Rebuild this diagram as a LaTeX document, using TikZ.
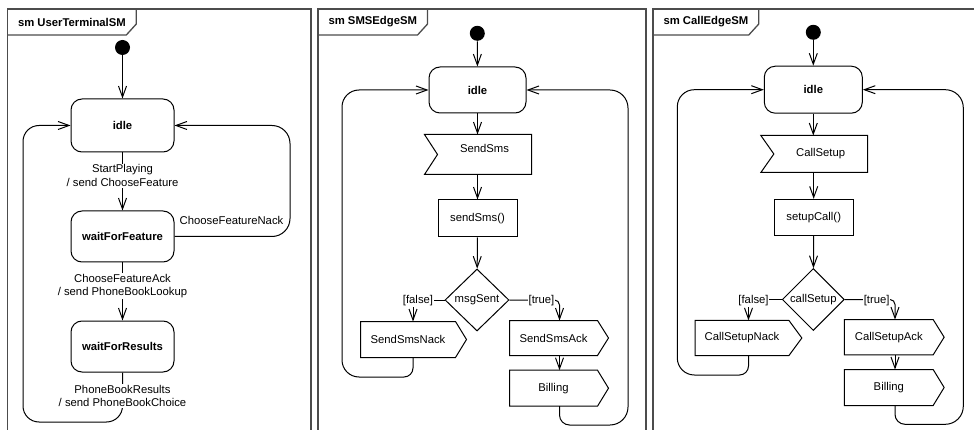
\documentclass[tikz,border=0pt]{standalone}
\usepackage{fontspec}
\setmainfont{Liberation Sans}
\usetikzlibrary{arrows.meta,shapes.geometric,calc}

% outline of a send-signal action (pointed right end)
\newcommand{\sendoutline}[2][11]{%
  \draw (#2.north west) -- (#2.north east) -- ([xshift=#1]#2.east)
        -- (#2.south east) -- (#2.south west) -- cycle;}
% outline of an accept-event action (notch on the left)
\newcommand{\recvoutline}[2][13]{%
  \draw ([xshift=-#1]#2.north west) -- (#2.north east) -- (#2.south east)
        -- ([xshift=-#1]#2.south west) -- (#2.west) -- cycle;}

\begin{document}
\begin{tikzpicture}[x=1pt,y=-1pt,line width=1pt,
  >={Straight Barb[length=11pt,width=8pt]},
  font=\fontsize{11.3}{13.5}\selectfont,
  frame/.style={draw=black!70,line width=1.3pt},
  tabtxt/.style={anchor=north west,font=\fontsize{11.3}{13.5}\selectfont\bfseries,
    minimum height=25,inner ysep=0,inner xsep=10},
  init/.style={circle,fill=black,minimum size=15,inner sep=0},
  state/.style={draw,rounded corners=11,inner sep=0,
    font=\fontsize{11.3}{13.5}\selectfont\bfseries},
  actbox/.style={draw,inner sep=0},
  sig/.style={inner sep=0},
  decision/.style={diamond,draw,inner sep=0,aspect=1},
  lbl/.style={fill=white,inner sep=1,align=center},
  guard/.style={fill=white,inner sep=0.5}]

\useasboundingbox (0,0) rectangle (974,430);
\clip (0,0) rectangle (974,430);

% ---------------- sm UserTerminalSM ----------------
\draw[frame] (7.5,440) -- (7.5,9) -- (311,9) -- (311,440);
\node[tabtxt] (t1) at (7.5,9) {sm UserTerminalSM};
\draw[frame] (t1.north east) -- ($(t1.south east)+(0,-11)$)
  -- ($(t1.south east)+(-10,0)$) -- (t1.south west);

\node[init] (i1) at (122.5,47.5) {};
\node[state,minimum width=103,minimum height=53] (idle1) at (122.5,125.5) {idle};
\node[state,minimum width=103,minimum height=51] (wff) at (122.5,236.5) {waitForFeature};
\node[state,minimum width=103,minimum height=51] (wfr) at (122.5,346.5) {waitForResults};

\draw[->] (i1) -- (idle1);
\draw[->] (idle1) -- node[lbl,pos=0.4] (l1) {StartPlaying\\/ send ChooseFeature} (wff);
\draw[->] (wff) -- node[lbl,pos=0.41] (l2) {ChooseFeatureAck\\/ send PhoneBookLookup} (wfr);
\draw[->,rounded corners=16] (wfr.south) -- (122.5,422) -- (23,422) -- (23,125.5) -- (idle1.west);
\node[lbl] (l3) at (122.5,396) {PhoneBookResults\\/ send PhoneBookChoice};
\draw[->,rounded corners=18] (wff.east) -- (290,236.5) -- (290,125.5) -- (idle1.east);
\node (l4) at (231.5,220) {ChooseFeatureNack};

% ---------------- sm SMSEdgeSM ----------------
\draw[frame] (318,440) -- (318,9) -- (646,9) -- (646,440);
\node[tabtxt] (t2) at (318,9) {sm SMSEdgeSM};
\draw[frame] (t2.north east) -- ($(t2.south east)+(0,-11)$)
  -- ($(t2.south east)+(-10,0)$) -- (t2.south west);

\node[init] (i2) at (477.3,33.3) {};
\node[state,minimum width=97,minimum height=46] (idle2) at (477.5,90) {idle};
\node[sig,minimum width=93,minimum height=39,
  label={[yshift=6]center:SendSms}] (sms) at (484.5,154.5) {};
\recvoutline{sms}
\node[actbox,minimum width=79,minimum height=37] (ss) at (477.5,218.5) {sendSms()};
\node[decision,minimum width=64,minimum height=62,label={center:msgSent}] (d2) at (477,300) {};
\node[sig,minimum width=94,minimum height=35] (snack) at (408,339.5) {SendSmsNack};
\sendoutline{snack}
\node[sig,minimum width=87,minimum height=34] (sack) at (553.5,338) {SendSmsAck};
\sendoutline{sack}
\node[sig,minimum width=87,minimum height=35] (bill2) at (553.5,388.2) {Billing};
\sendoutline{bill2}
\coordinate (f2) at (413,300);
\coordinate (tr2) at (559.5,300);

\draw[->] (i2) -- (idle2);
\draw[->] (idle2.south) -- (idle2.south |- sms.north);
\draw[->] (ss.north |- sms.south) -- (ss.north);
\draw[->] (ss) -- (d2);
\draw[->] (d2.west) -- (f2) -- (f2 |- snack.north);
\node[guard] (g2f) at (418,301) {[false]};
\draw[->,rounded corners=5] (d2.east) -- (tr2) -- (tr2 |- sack.north);
\node[guard] (g2t) at (541.5,301) {[true]};
\draw[->] (tr2 |- sack.south) -- (tr2 |- bill2.north);
\draw[->] (f2 |- snack.south) [rounded corners=9] -- (413,377)
  [rounded corners=17] -- (342,377) -- (342,90) -- (idle2.west);
\draw[->] (tr2 |- bill2.south) [rounded corners=10] -- (559.5,425)
  [rounded corners=18] -- (628,425) -- (628,90) -- (idle2.east);

% ---------------- sm CallEdgeSM ----------------
\draw[frame] (653,440) -- (653,9) -- (990,9);
\node[tabtxt] (t3) at (653,9) {sm CallEdgeSM};
\draw[frame] (t3.north east) -- ($(t3.south east)+(0,-11)$)
  -- ($(t3.south east)+(-10,0)$) -- (t3.south west);

\node[init] (i3) at (813.3,32.3) {};
\node[state,minimum width=98,minimum height=47] (idle3) at (813.3,89.7) {idle};
\node[sig,minimum width=92.7,minimum height=36] (cs) at (820.7,154) {CallSetup};
\recvoutline{cs}
\node[actbox,minimum width=79.3,minimum height=36.3] (su) at (813.7,217.5) {setupCall()};
\node[decision,minimum width=62,minimum height=62,label={center:callSetup}] (d3) at (813.3,299.5) {};
\node[sig,minimum width=92.7,minimum height=34.3] (cnack) at (742,338) {CallSetupNack};
\sendoutline[13]{cnack}
\node[sig,minimum width=87.7,minimum height=34.3] (cack) at (888.8,337.2) {CallSetupAck};
\sendoutline{cack}
\node[sig,minimum width=87.7,minimum height=35] (bill3) at (888.8,387.5) {Billing};
\sendoutline{bill3}
\coordinate (f3) at (748.5,299.5);
\coordinate (tr3) at (895,299.5);

\draw[->] (i3) -- (idle3);
\draw[->] (idle3) -- (idle3.south |- cs.north);
\draw[->] (su.north |- cs.south) -- (su.north);
\draw[->] (su) -- (d3);
\draw[->] (d3.west) -- (f3) -- (f3 |- cnack.north);
\node[guard] (g3f) at (753.5,301) {[false]};
\draw[->,rounded corners=5] (d3.east) -- (tr3) -- (tr3 |- cack.north);
\node[guard] (g3t) at (876.7,301) {[true]};
\draw[->] (tr3 |- cack.south) -- (tr3 |- bill3.north);
\draw[->] (f3 |- cnack.south) [rounded corners=9] -- (748.5,375)
  [rounded corners=17] -- (677.3,375) -- (677.3,89.7) -- (idle3.west);
\draw[->] (tr3 |- bill3.south) [rounded corners=10] -- (895,424.3)
  [rounded corners=18] -- (963.3,424.3) -- (963.3,89.7) -- (idle3.east);
\end{tikzpicture}
\end{document}
